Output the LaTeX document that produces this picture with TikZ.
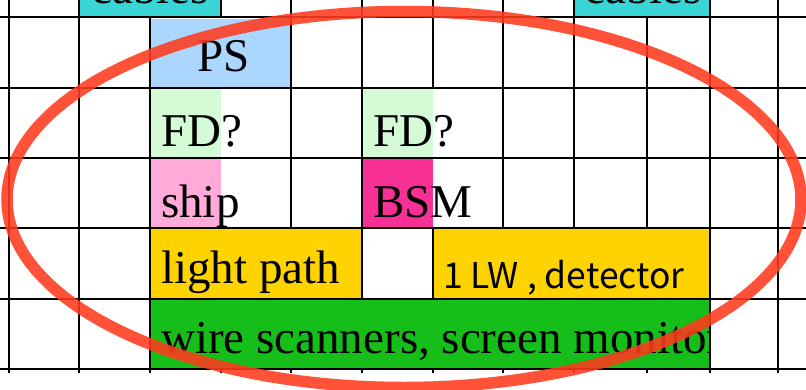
\documentclass[tikz,border=0pt]{standalone}
\usepackage{fontspec}
\setmainfont{Liberation Serif}
\newfontfamily\gothicfont{Noto Sans CJK JP}
\definecolor{cablecyan}{HTML}{3AD5D7}
\definecolor{psblue}{HTML}{AAD6FF}
\definecolor{fdgreen}{HTML}{D5FAD6}
\definecolor{shippink}{HTML}{FFAAD8}
\definecolor{bsmpink}{HTML}{F73096}
\definecolor{lightyellow}{HTML}{FFD300}
\definecolor{wiregreen}{HTML}{16BE1A}
\definecolor{ringred}{HTML}{FF3B1E}
\begin{document}
\begin{tikzpicture}[x=1pt,y=-1pt,
  gridline/.style={line width=2pt,black},
  lbl/.style={anchor=base west,inner sep=0pt,font=\fontsize{47}{50}\selectfont},
  lblc/.style={anchor=base,inner sep=0pt,font=\fontsize{47}{50}\selectfont},
  gothiclbl/.style={anchor=base west,inner sep=0pt,font=\gothicfont\fontsize{35.5}{38}\selectfont},
  ring/.style={draw=ringred,draw opacity=0.88,line width=11.5pt}]
\useasboundingbox (0,0) rectangle (806,389);
\clip (0,0) rectangle (806,389);
\fill[white] (0,0) rectangle (806,389);
% cell fills
\fill[cablecyan] (79,0) rectangle (221,17);
\fill[cablecyan] (574,0) rectangle (710,17);
\fill[psblue] (150,19) rectangle (291,88);
\fill[fdgreen] (150,88) rectangle (221,158);
\fill[fdgreen] (362,88) rectangle (433,158);
\fill[shippink] (150,158) rectangle (221,228);
\fill[bsmpink] (362,158) rectangle (433,228);
\fill[lightyellow] (150,228) rectangle (362,299);
\fill[lightyellow] (433,228) rectangle (710,299);
\fill[wiregreen] (150,299) rectangle (710,369);
% texts
\node[lblc] (cab1) at (150,3) {cables};
\node[lblc] (cab2) at (643,3) {cables};
\node[lblc] (ps) at (224,71) {PS};
\node[lbl] (fd1) at (161,146) {FD?};
\node[lbl] (fd2) at (373,146) {FD?};
\node[lbl] (ship) at (161,217) {ship};
\node[lbl] (bsm) at (373,217) {BSM};
\node[lbl] (lp) at (161,283) {light path};
\node[gothiclbl] (lw) at (443,288) {1 LW , detector};
\begin{scope}
  \clip (150,299) rectangle (710,369);
  \node[lbl] (wire) at (161,353) {wire scanners, screen monitors};
\end{scope}
% horizontal grid lines
\foreach \yy in {17,88,158,228,299,369}
  \draw[gridline] (0,\yy) -- (806,\yy);
% vertical grid lines
\foreach \xx in {9,79,710,778}
  \draw[gridline] (\xx,0) -- (\xx,369);
\draw[gridline] (150,17) -- (150,369);
\draw[gridline] (221,0) -- (221,17);
\draw[gridline] (291,0) -- (291,228);
\draw[gridline] (362,0) -- (362,299);
\draw[gridline] (433,0) -- (433,88);
\draw[gridline] (433,228) -- (433,299);
\draw[gridline] (503,0) -- (503,228);
\draw[gridline] (574,0) -- (574,228);
\draw[gridline] (647,17) -- (647,228);
% ticks below the last line
\foreach \xx in {9,79,150,221,291,362,433,503,574,647,710,778}
  \draw[gridline] (\xx,369) -- (\xx,373);
% red ring
\draw[ring] (404,199.5) ellipse [x radius=397, y radius=188];
\end{tikzpicture}
\end{document}
